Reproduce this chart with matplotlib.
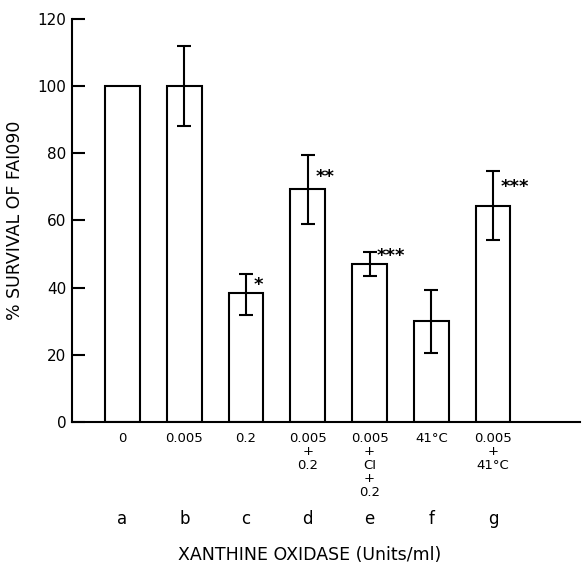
import matplotlib
matplotlib.use("Agg")
import matplotlib.pyplot as plt
import numpy as np

# data
letters = ['a', 'b', 'c', 'd', 'e', 'f', 'g']
treatments = ['0', '0.005', '0.2', '0.005\n+\n0.2', '0.005\n+\nCI\n+\n0.2',
              '41°C', '0.005\n+\n41°C']
survival = [100, 100, 38.5, 69.5, 47, 30, 64.4]
err_low = [0, 12, 6.5, 10.5, 3.5, 9.5, 10.2]
err_high = [0, 12, 5.5, 10.0, 3.5, 9.4, 10.3]
stars = ['', '', '*', '**', '***', '', '***']
star_y = [0, 0, 41.7, 73.8, 50.1, 0, 70.8]

plt.rcParams['font.family'] = ['DejaVu Sans']

fig = plt.figure(figsize=(5.86, 5.65), dpi=100)
ax = fig.add_axes([0.1229, 0.2531, 0.867, 0.7133])

x = np.arange(len(letters))
ax.bar(x, survival, width=0.56, color='white', edgecolor='black', linewidth=1.5)
ax.errorbar(x[1:], survival[1:], yerr=[err_low[1:], err_high[1:]], fmt='none',
            ecolor='black', elinewidth=1.5, capsize=5, capthick=1.5)

for i in range(len(x)):
    if stars[i]:
        ax.text(x[i] + 0.12, star_y[i] - 0.8, stars[i], ha='left', va='center',
                fontsize=13, fontweight='bold')

ax.set_xlim(-0.818, 7.41)
ax.set_ylim(0, 120)
ax.set_yticks([0, 20, 40, 60, 80, 100, 120])
ax.tick_params(axis='y', direction='in', length=9, width=1.5, labelsize=11, pad=4)
ax.set_xticks(x)
ax.set_xticklabels(treatments, fontsize=9.5, linespacing=1.05, va='top')
ax.tick_params(axis='x', length=0, pad=7)

for s in ['top', 'right']:
    ax.spines[s].set_visible(False)
ax.spines['left'].set_linewidth(1.5)
ax.spines['bottom'].set_linewidth(1.5)

for i in range(len(x)):
    ax.text(x[i], -29, letters[i], ha='center', va='center', fontsize=12)

ax.set_ylabel('% SURVIVAL OF FAI090', fontsize=12.5, labelpad=10)
ax.text(3.03, -39.5, 'XANTHINE OXIDASE (Units/ml)', ha='center', va='center',
        fontsize=12.5)

fig.savefig('out.png', dpi=100)
